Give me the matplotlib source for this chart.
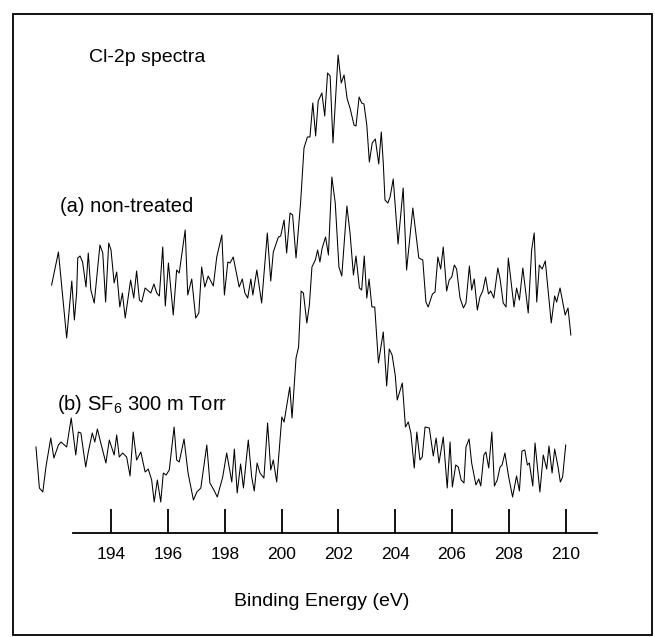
import numpy as np
import matplotlib.pyplot as plt
from matplotlib.patches import Rectangle

plt.rcParams['font.family'] = ['Liberation Sans', 'DejaVu Sans']
plt.rcParams['mathtext.fontset'] = 'custom'
plt.rcParams['mathtext.rm'] = 'Liberation Sans'

# Cl-2p XPS spectra, intensities in arbitrary units (already stacked)
energy_a = [191.91, 192.15, 192.44, 192.62, 192.71, 192.79, 192.83, 192.91, 193.00, 193.12,
            193.20, 193.29, 193.41, 193.61, 193.71, 193.81, 193.92, 194.00, 194.11, 194.20,
            194.31, 194.40, 194.50, 194.69, 194.80, 194.90, 195.00, 195.08, 195.20, 195.40,
            195.51, 195.61, 195.70, 195.82, 195.91, 196.02, 196.19, 196.31, 196.40, 196.61,
            196.70, 196.84, 196.98, 197.09, 197.19, 197.30, 197.42, 197.60, 197.72, 197.90,
            197.99, 198.11, 198.19, 198.30, 198.51, 198.62, 198.71, 198.81, 198.92, 198.99,
            199.13, 199.30, 199.50, 199.62, 199.71, 199.89, 199.97, 200.09, 200.18, 200.30,
            200.39, 200.51, 200.67, 200.79, 200.91, 201.00, 201.10, 201.20, 201.29, 201.42,
            201.52, 201.62, 201.71, 201.81, 201.99, 202.10, 202.20, 202.31, 202.41, 202.55,
            202.62, 202.73, 202.82, 202.90, 203.00, 203.09, 203.19, 203.30, 203.42, 203.51,
            203.58, 203.64, 203.74, 203.82, 203.93, 204.10, 204.28, 204.40, 204.62, 204.83,
            204.97, 205.08, 205.16, 205.31, 205.40, 205.50, 205.60, 205.69, 205.81, 205.90,
            205.99, 206.08, 206.16, 206.28, 206.40, 206.49, 206.61, 206.69, 206.78, 206.89,
            206.98, 207.08, 207.18, 207.28, 207.36, 207.47, 207.61, 207.69, 207.80, 207.90,
            207.98, 208.18, 208.27, 208.37, 208.49, 208.68, 208.80, 208.89, 208.98, 209.07,
            209.17, 209.28, 209.49, 209.61, 209.68, 209.80, 209.98, 210.08, 210.18]
counts_a = [248, 281, 195, 252, 213, 240, 275, 277, 271, 246,
            280, 243, 230, 288, 280, 231, 290, 283, 250, 261,
            226, 240, 215, 253, 235, 262, 233, 231, 245, 240,
            249, 240, 237, 286, 227, 270, 218, 263, 260, 303,
            238, 254, 215, 220, 266, 246, 257, 247, 276, 298,
            238, 271, 270, 276, 246, 254, 240, 235, 254, 238,
            263, 230, 300, 252, 281, 296, 297, 313, 280, 320,
            318, 275, 330, 385, 396, 396, 430, 397, 432, 440,
            417, 460, 457, 390, 478, 450, 458, 434, 425, 408,
            407, 436, 430, 429, 408, 371, 390, 394, 369, 401,
            370, 333, 330, 336, 354, 289, 345, 263, 325, 275,
            273, 231, 226, 239, 241, 276, 264, 286, 242, 253,
            256, 268, 264, 235, 225, 230, 267, 243, 254, 223,
            236, 242, 256, 239, 242, 235, 265, 254, 230, 226,
            275, 226, 245, 233, 265, 220, 283, 300, 231, 268,
            264, 272, 210, 237, 231, 245, 218, 225, 198]

energy_b = [191.36, 191.48, 191.60, 191.71, 191.88, 191.99, 192.15, 192.24, 192.32, 192.44,
            192.60, 192.76, 192.85, 192.94, 193.11, 193.20, 193.34, 193.43, 193.52, 193.64,
            193.82, 193.94, 194.11, 194.20, 194.29, 194.41, 194.55, 194.67, 194.78, 194.90,
            195.05, 195.20, 195.31, 195.43, 195.52, 195.63, 195.75, 195.84, 195.94, 196.05,
            196.22, 196.31, 196.40, 196.57, 196.71, 196.90, 197.02, 197.16, 197.37, 197.48,
            197.62, 197.74, 197.93, 198.07, 198.25, 198.34, 198.44, 198.56, 198.66, 198.83,
            198.95, 199.04, 199.14, 199.24, 199.38, 199.51, 199.62, 199.71, 199.83, 200.01,
            200.09, 200.29, 200.37, 200.51, 200.60, 200.69, 200.77, 200.89, 200.98, 201.07,
            201.19, 201.27, 201.35, 201.43, 201.55, 201.65, 201.77, 201.89, 202.02, 202.12,
            202.30, 202.41, 202.53, 202.62, 202.74, 202.82, 202.91, 203.00, 203.08, 203.18,
            203.28, 203.41, 203.58, 203.70, 203.79, 203.89, 204.00, 204.07, 204.25, 204.36,
            204.46, 204.55, 204.67, 204.76, 204.87, 204.95, 205.05, 205.20, 205.34, 205.44,
            205.54, 205.69, 205.83, 205.93, 206.01, 206.13, 206.22, 206.32, 206.42, 206.49,
            206.60, 206.69, 206.84, 206.94, 207.01, 207.12, 207.19, 207.29, 207.40, 207.49,
            207.59, 207.69, 207.76, 207.86, 207.98, 208.13, 208.27, 208.37, 208.46, 208.56,
            208.65, 208.72, 208.84, 208.92, 209.09, 209.21, 209.33, 209.41, 209.52, 209.61,
            209.73, 209.81, 209.89, 210.00]
counts_b = [86, 45, 41, 66, 95, 75, 88, 91, 89, 86,
            115, 78, 101, 100, 66, 81, 100, 91, 104, 90,
            70, 93, 78, 98, 76, 80, 76, 57, 101, 73,
            81, 61, 64, 53, 31, 53, 31, 60, 58, 63,
            106, 73, 71, 94, 60, 33, 41, 45, 88, 50,
            43, 36, 56, 80, 51, 84, 40, 69, 45, 93,
            56, 42, 70, 60, 55, 110, 63, 73, 51, 116,
            111, 146, 115, 175, 186, 242, 240, 210, 228, 266,
            273, 283, 271, 285, 296, 278, 356, 330, 266, 257,
            327, 300, 258, 277, 245, 243, 277, 235, 254, 226,
            226, 170, 201, 147, 184, 178, 158, 133, 150, 106,
            111, 100, 65, 101, 73, 76, 106, 105, 77, 95,
            70, 96, 45, 91, 46, 68, 66, 53, 50, 86,
            94, 70, 48, 54, 47, 78, 81, 65, 101, 47,
            53, 66, 68, 80, 58, 36, 57, 42, 82, 83,
            68, 70, 47, 90, 41, 78, 64, 87, 60, 84,
            66, 51, 56, 88]

ticks = [194, 196, 198, 200, 202, 204, 206, 208, 210]

W, H = 655, 637
fig = plt.figure(figsize=(W / 100, H / 100), dpi=100)

# axes box in pixels: bottom spine at y=533, from x=72.7 to x=597
ax = fig.add_axes([72.7 / W, (H - 533) / H, (597 - 72.7) / W, (533 - 14) / H])
ax.set_xlim(192.652, 211.10)
ax.set_ylim(0, 519)

ax.plot(energy_a, counts_a, color='black', lw=0.75, clip_on=False)
ax.plot(energy_b, counts_b, color='black', lw=0.75, clip_on=False)

for s in ['top', 'right', 'left']:
    ax.spines[s].set_visible(False)
ax.spines['bottom'].set_linewidth(1.3)
ax.set_yticks([])
ax.set_xticks(ticks)
ax.set_xticklabels([str(t) for t in ticks], fontsize=12.5)
ax.tick_params(axis='x', direction='in', length=17.5, width=1.3, pad=10)
ax.set_xlabel('Binding Energy (eV)', fontsize=14)
ax.xaxis.set_label_coords((322 - 72.7) / (597 - 72.7), -(602 - 533) / (533 - 14), transform=ax.transAxes)
ax.xaxis.label.set_va('center')

fig.text(89 / W, 1 - 57 / H, 'Cl-2p spectra', fontsize=14, va='center')
fig.text(60 / W, 1 - 207 / H, '(a) non-treated', fontsize=14.5, va='center')
fig.text(57 / W, 1 - 405 / H, r'(b) SF$_{\mathrm{6}}$ 300 m Torr', fontsize=14.5, va='center')

# outer frame
fig.patches.append(Rectangle((13 / W, (H - 635) / H), (652 - 13) / W, (635 - 14) / H,
                             transform=fig.transFigure, fill=False, lw=1.3, ec='black'))

fig.savefig('out.png', dpi=100)
